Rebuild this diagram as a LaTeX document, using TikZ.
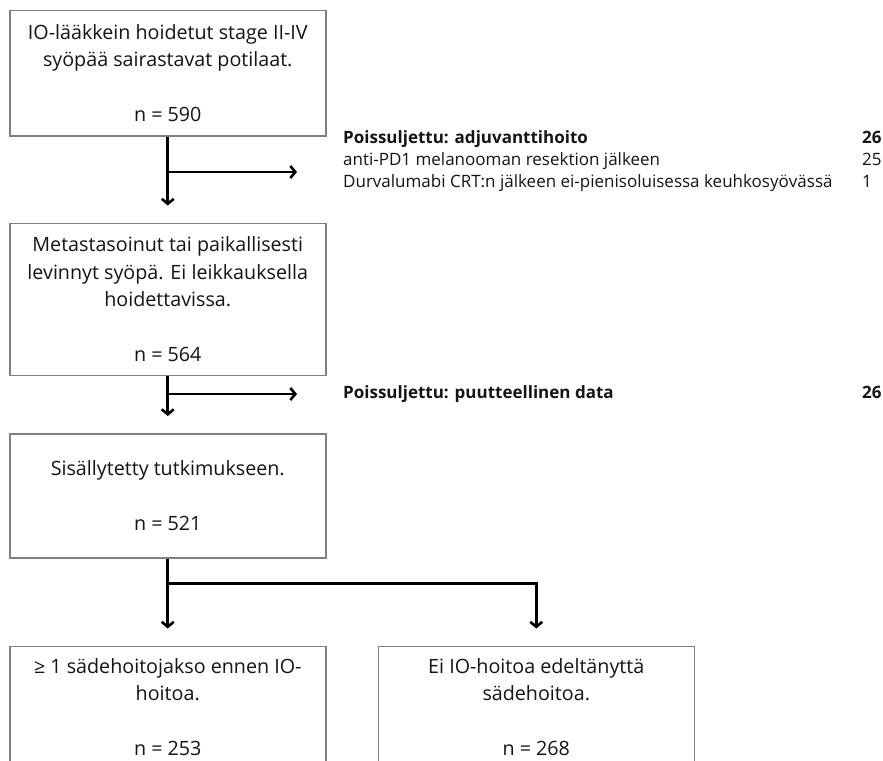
\documentclass[tikz,border=0pt]{standalone}
\usepackage{fontspec}
\setmainfont{Open Sans}
\usepackage{tikz}
\usetikzlibrary{arrows.meta,positioning}
\definecolor{fcgray}{RGB}{128,128,128}
\definecolor{fctext}{RGB}{20,20,20}

\begin{document}
\begin{tikzpicture}[x=1pt, y=-1pt,
  box/.style={draw=fcgray, line width=1.5pt, align=center, text=fctext,
              font=\fontsize{19.7}{27.5}\selectfont, minimum width=316pt, inner sep=0pt},
  arr/.style={-{Straight Barb[length=5pt,width=12pt]}, line width=2.6pt},
  gap/.style={shorten >=17pt},
  lnk/.style={line width=2.6pt},
  excl/.style={anchor=west, inner sep=0pt, text=fctext,
               font=\fontsize{17}{22}\selectfont}
]
\useasboundingbox (0,0) rectangle (883,760);
\clip (0,0) rectangle (883,760);
\node[box, minimum height=125pt, anchor=north west] (pop) at (9,10)
  {IO-lääkkein hoidetut stage II-IV\\ syöpää sairastavat potilaat.\\[27.5pt] n = 590};
\node[box, minimum height=152pt, below=86pt of pop] (meta)
  {Metastasoinut tai paikallisesti\\ levinnyt syöpä. Ei leikkauksella\\ hoidettavissa.\\[27.5pt] n = 564};
\node[box, minimum height=124pt, below=57pt of meta] (incl)
  {Sisällytetty tutkimukseen.\\[27.5pt] n = 521};
\node[box, minimum height=122pt, below=87pt of incl] (rt)
  {≥ 1 sädehoitojakso ennen IO-\\ hoitoa.\\[27.5pt] n = 253};
\node[box, minimum height=122pt, right=51pt of rt] (nort)
  {Ei IO-hoitoa edeltänyttä\\ sädehoitoa.\\[27.5pt] n = 268};
\node[excl] (ex1) at (343,161) {\begin{tabular}{@{}p{519pt}@{}l@{}}
  \textbf{Poissuljettu: adjuvanttihoito} & \textbf{26}\\
  anti-PD1 melanooman resektion jälkeen & 25\\
  Durvalumabi CRT:n jälkeen ei-pienisoluisessa keuhkosyövässä & 1
  \end{tabular}};
\node[excl] (ex2) at (343,394) {\begin{tabular}{@{}p{519pt}@{}l@{}}
  \textbf{Poissuljettu: puutteellinen data} & \textbf{26}
  \end{tabular}};
\coordinate (ex1tip) at (297,172);
\coordinate (ex2tip) at (297,394);
\coordinate[below=25pt of incl] (split);
\draw[arr, gap] (pop.south) -- (meta.north);
\draw[arr] (pop.south |- ex1tip) -- (ex1tip);
\draw[arr, gap] (meta.south) -- (incl.north);
\draw[arr] (meta.south |- ex2tip) -- (ex2tip);
\draw[lnk] (incl.south) -- (split);
\draw[arr, gap] (split) -- (rt.north);
\draw[arr, gap] (split) -| (nort.north);
\end{tikzpicture}
\end{document}
